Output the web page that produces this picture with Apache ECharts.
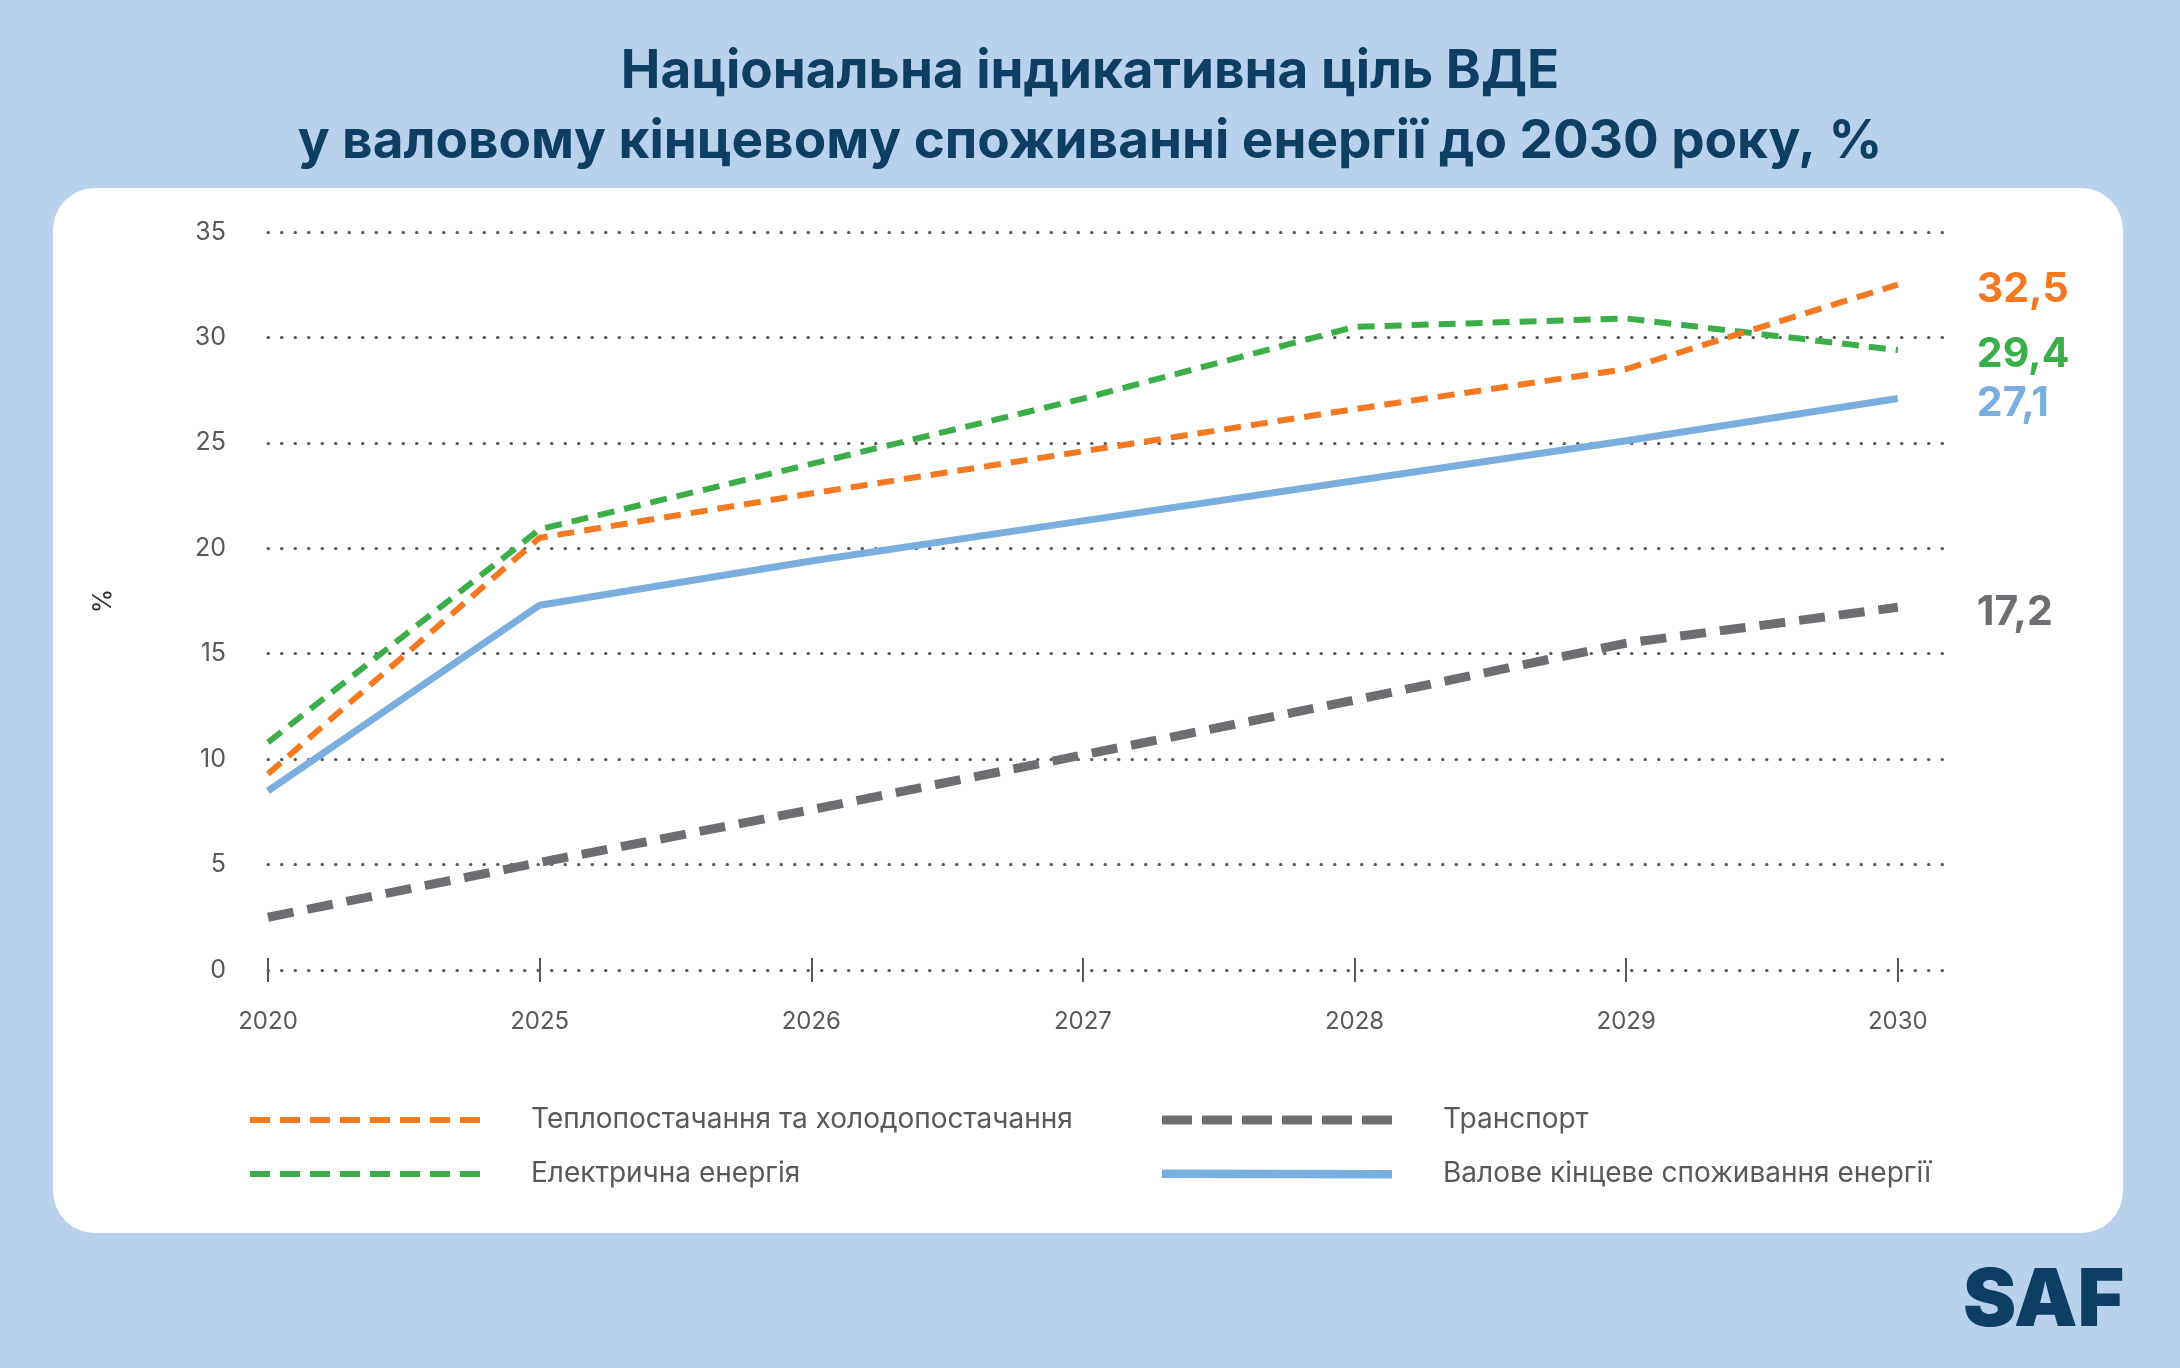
<!DOCTYPE html>
<html>
<head>
<meta charset="utf-8">
<script src="https://cdn.jsdelivr.net/npm/echarts@6/dist/echarts.min.js"></script>
<style>
html,body{margin:0;padding:0;background:#bad1ec;}
#chart{width:2180px;height:1368px;}
</style>
</head>
<body>
<div id="chart"></div>
<script>
const years = ['2020', '2025', '2026', '2027', '2028', '2029', '2030'];
const yTicks = [0, 5, 10, 15, 20, 25, 30, 35];
const heating = [9.3, 20.5, 22.6, 24.6, 26.6, 28.5, 32.5];
const electricity = [10.8, 20.9, 24.0, 27.1, 30.5, 30.9, 29.4];
const transport = [2.5, 5.1, 7.6, 10.2, 12.8, 15.5, 17.2];
const gross = [8.5, 17.3, 19.4, 21.3, 23.2, 25.1, 27.1];
const names = [
  'Теплопостачання та холодопостачання',
  'Електрична енергія',
  'Транспорт',
  'Валове кінцеве споживання енергії'
];
const titleText = 'Національна індикативна ціль ВДЕ\nу валовому кінцевому споживанні енергії до 2030 року, %';

const FONT = 'Inter, "Noto Sans", sans-serif';
const colors = { heating: '#f47920', electricity: '#3cae49', transport: '#6d6e71', gross: '#7aaedf' };

function pairs(arr) { return arr.map((v, i) => [i, v]); }
function endLabel(color) {
  return {
    show: true,
    distance: 79,
    offset: [0, 5],
    formatter: p => String(p.value[1]).replace('.', ','),
    color: color,
    fontFamily: FONT,
    fontWeight: 'bold',
    fontSize: 41
  };
}
// legend icon shape: a row of dashes in a box 230 wide and h high
function dashIcon(count, dash, gap, h) {
  let d = '';
  for (let i = 0; i < count; i++) {
    const x0 = i * (dash + gap);
    d += 'M' + x0 + ',0 L' + (x0 + dash) + ',0 L' + (x0 + dash) + ',' + h + ' L' + x0 + ',' + h + ' Z ';
  }
  return 'path://' + d;
}
const legendText = { color: '#58595b', fontFamily: FONT, fontSize: 28, lineHeight: 32, padding: [0, 0, 0, 46] };

const chart = echarts.init(document.getElementById('chart'), null, { renderer: 'canvas' });
const option = {
  backgroundColor: '#bad1ec',
  animation: false,
  title: {
    text: titleText,
    left: 'center',
    top: 32,
    textStyle: { color: '#0d3e63', fontFamily: FONT, fontWeight: 'bold', fontSize: 53, lineHeight: 70 }
  },
  graphic: [
    { type: 'rect', z: -10, shape: { x: 53, y: 188, width: 2070, height: 1045, r: 42 }, style: { fill: '#ffffff' } },
    { type: 'text', left: 1963, top: 1262, style: { text: 'SAF', fill: '#0d3e63', font: '900 80px Inter, "Noto Sans", sans-serif' } }
  ],
  grid: { left: 268, right: 236, top: 232, bottom: 398 },
  xAxis: {
    type: 'value',
    min: 0,
    max: 6.17,
    offset: -12,
    axisLine: { show: false },
    splitLine: { show: false },
    axisTick: { show: true, length: 24, customValues: [0, 1, 2, 3, 4, 5, 6], lineStyle: { color: '#58595b', width: 2 } },
    axisLabel: {
      customValues: [0, 1, 2, 3, 4, 5, 6],
      formatter: v => years[Math.round(v)],
      margin: 52,
      color: '#58595b',
      fontFamily: FONT,
      fontSize: 24
    }
  },
  yAxis: {
    type: 'value',
    min: yTicks[0],
    max: yTicks[yTicks.length - 1],
    interval: 5,
    name: '%',
    nameLocation: 'middle',
    nameRotate: 90,
    nameGap: 152,
    nameTextStyle: { color: '#333', fontFamily: FONT, fontSize: 25 },
    axisLine: { show: false },
    axisTick: { show: false },
    axisLabel: { margin: 42, color: '#58595b', fontFamily: FONT, fontSize: 25 },
    splitLine: { show: true, lineStyle: { color: '#58595b', width: 3, type: [0.5, 13], cap: 'round' } }
  },
  legend: [
    {
      data: [
        { name: names[0], icon: dashIcon(8, 20, 10, 6) },
        { name: names[1], icon: dashIcon(8, 20, 10, 6) }
      ],
      orient: 'vertical',
      left: 245,
      top: 1099,
      itemWidth: 230,
      itemHeight: 6,
      itemGap: 22,
      textStyle: legendText
    },
    {
      data: [
        { name: names[2], icon: dashIcon(6, 30, 10, 9) },
        { name: names[3], icon: 'path://M0,0 L230,0.6 L230,9 L0,8.4 Z' }
      ],
      orient: 'vertical',
      left: 1157,
      top: 1099,
      itemWidth: 230,
      itemHeight: 9,
      itemGap: 22,
      textStyle: legendText
    }
  ],
  series: [
    {
      name: names[0], type: 'line', data: pairs(heating), showSymbol: false, symbol: 'none',
      lineStyle: { color: colors.heating, width: 6, type: [17, 10] }, itemStyle: { color: colors.heating },
      endLabel: endLabel(colors.heating), z: 4
    },
    {
      name: names[1], type: 'line', data: pairs(electricity), showSymbol: false, symbol: 'none',
      lineStyle: { color: colors.electricity, width: 6, type: [17, 10] }, itemStyle: { color: colors.electricity },
      endLabel: endLabel(colors.electricity), z: 3
    },
    {
      name: names[2], type: 'line', data: pairs(transport), showSymbol: false, symbol: 'none',
      lineStyle: { color: colors.transport, width: 9, type: [26, 14] }, itemStyle: { color: colors.transport },
      endLabel: endLabel(colors.transport), z: 2
    },
    {
      name: names[3], type: 'line', data: pairs(gross), showSymbol: false, symbol: 'none',
      lineStyle: { color: colors.gross, width: 7, type: 'solid' }, itemStyle: { color: colors.gross },
      endLabel: endLabel(colors.gross), z: 1
    }
  ]
};
chart.setOption(option);
</script>
</body>
</html>
